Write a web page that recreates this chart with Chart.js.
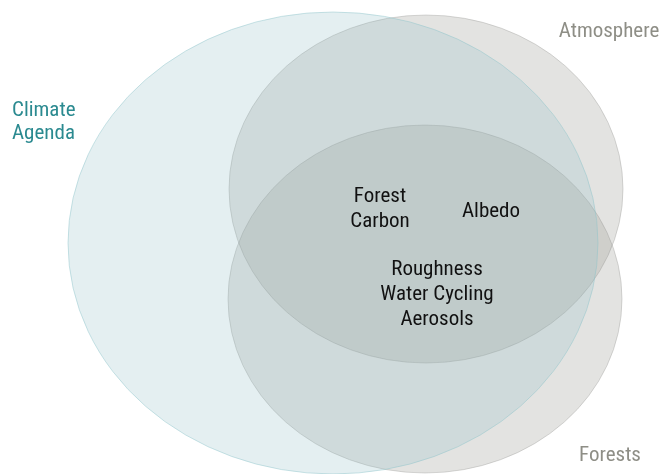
<!DOCTYPE html>
<html>
<head>
<meta charset="utf-8">
<script src="https://cdn.jsdelivr.net/npm/chart.js@4.4.1/dist/chart.umd.min.js"></script>
<style>
  html, body { margin: 0; padding: 0; background: #fff; }
  #venn { display: block; }
</style>
</head>
<body>
<canvas id="venn" width="661" height="474"></canvas>
<script>
// sets
var setNames = ["Climate Agenda", "Atmosphere", "Forests"];
var centerX = [333, 426, 425];
var centerY = [243, 189, 299];
var radiusX = [265, 197, 197];
var radiusY = [231, 174, 174];
var drawOrder = [1, 2, 0]; // climate on top so its tint shows over the overlaps

// set labels outside the ellipses
var setLabelX = [12, 609, 610];
var setLabelY = [122, 32, 456];
var setLabelLines = [["Climate", "Agenda"], ["Atmosphere"], ["Forests"]];

// labels inside the overlap
var innerLabels = [["Forest", "Carbon"], ["Albedo"], ["Roughness", "Water Cycling", "Aerosols"]];
var innerX = [380, 491, 437];
var innerY = [209, 212, 295];

var fills = ["rgba(147,191,199,0.25)", "rgba(145,145,138,0.26)", "rgba(145,145,138,0.26)"];
var strokes = ["rgba(140,195,202,0.45)", "rgba(150,150,145,0.35)", "rgba(150,150,145,0.35)"];
var labelColors = ["#2b8a90", "#8e8e86", "#8e8e86"];
var fontFam = "'Roboto Condensed', 'Liberation Sans Narrow', 'DejaVu Sans Condensed', sans-serif";

var ellipsePlugin = {
    id: "ellipses",
    beforeDatasetsDraw: function (chart) {
        var ctx = chart.ctx;
        var xs = chart.scales.x, ys = chart.scales.y;
        var pts = chart.data.datasets[0].data;
        ctx.save();
        drawOrder.forEach(function (i) {
            var p = pts[i];
            var px = xs.getPixelForValue(p.x);
            var py = ys.getPixelForValue(p.y);
            var rx = Math.abs(xs.getPixelForValue(p.x + p.rx) - px);
            var ry = Math.abs(ys.getPixelForValue(p.y + p.ry) - py);
            ctx.beginPath();
            ctx.ellipse(px, py, rx, ry, 0, 0, Math.PI * 2);
            ctx.fillStyle = fills[i];
            ctx.fill();
            ctx.lineWidth = 1;
            ctx.strokeStyle = strokes[i];
            ctx.stroke();
        });
        ctx.restore();
    },
    afterDatasetsDraw: function (chart) {
        var ctx = chart.ctx;
        var xs = chart.scales.x, ys = chart.scales.y;
        var lh = 23;
        ctx.save();
        ctx.font = "21px " + fontFam;
        ctx.textBaseline = "middle";
        setLabelLines.forEach(function (lines, i) {
            ctx.fillStyle = labelColors[i];
            ctx.textAlign = i === 0 ? "left" : "center";
            var px = xs.getPixelForValue(setLabelX[i]);
            var py = ys.getPixelForValue(setLabelY[i]) - (lines.length - 1) * lh / 2;
            lines.forEach(function (t, k) { ctx.fillText(t, px, py + k * lh); });
        });
        ctx.fillStyle = "#111";
        ctx.textAlign = "center";
        innerLabels.forEach(function (lines, i) {
            var px = xs.getPixelForValue(innerX[i]);
            var py = ys.getPixelForValue(innerY[i]) - (lines.length - 1) * 25 / 2;
            lines.forEach(function (t, k) { ctx.fillText(t, px, py + k * 25); });
        });
        ctx.restore();
    }
};

new Chart(document.getElementById("venn"), {
    type: "scatter",
    data: {
        datasets: [{
            label: "Sets",
            data: setNames.map(function (n, i) {
                return { x: centerX[i], y: centerY[i], rx: radiusX[i], ry: radiusY[i], name: n };
            }),
            pointRadius: 0,
            pointHoverRadius: 0
        }]
    },
    options: {
        responsive: false,
        animation: false,
        layout: { padding: 0 },
        plugins: {
            legend: { display: false },
            tooltip: { enabled: false }
        },
        scales: {
            x: { type: "linear", min: 0, max: 661, display: false },
            y: { type: "linear", min: 0, max: 474, reverse: true, display: false }
        }
    },
    plugins: [ellipsePlugin]
});
</script>
</body>
</html>
